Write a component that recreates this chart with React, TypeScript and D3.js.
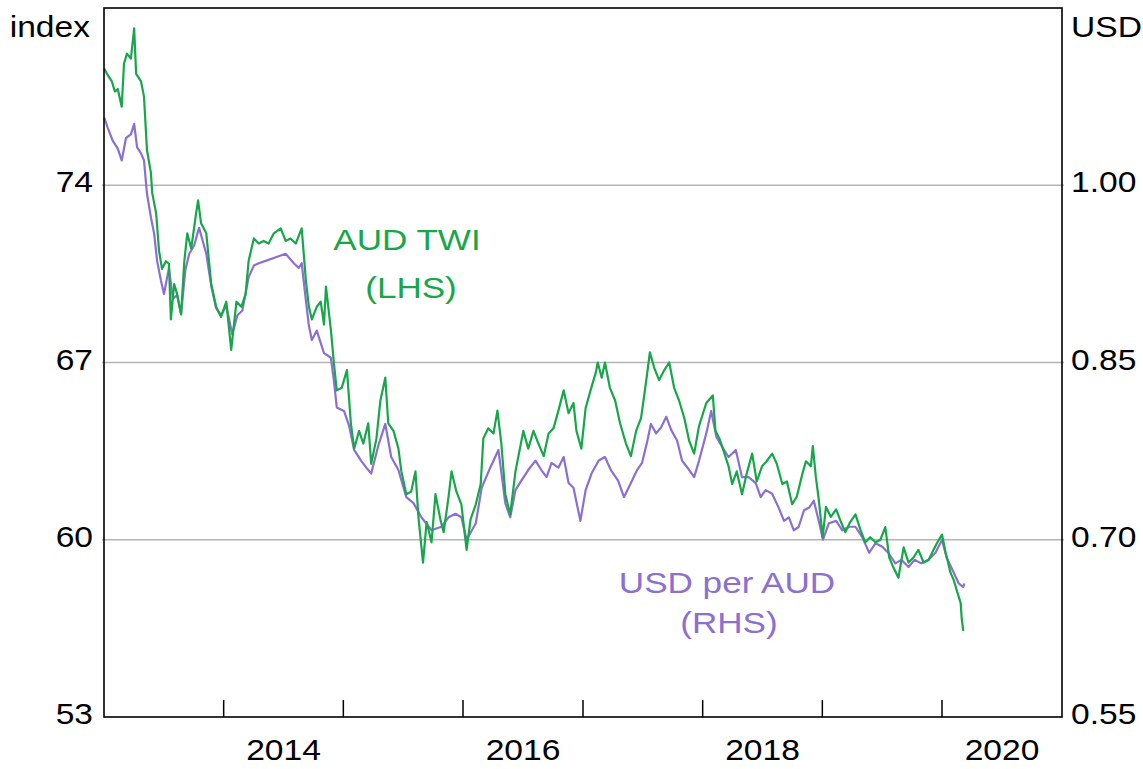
import React, { useEffect, useRef } from 'react';
import * as d3 from 'd3';

// AUD trade-weighted index (LHS)
const twiSeries: [string, number][] = [
  ['2013-01-02', 78.6], ['2013-01-10', 78.4], ['2013-01-25', 78.1], ['2013-02-03', 77.7], ['2013-02-12', 77.8],
  ['2013-02-24', 77.1], ['2013-03-03', 78.8], ['2013-03-12', 79.2], ['2013-03-24', 79.0], ['2013-04-03', 80.2],
  ['2013-04-09', 78.4], ['2013-04-24', 78.1], ['2013-05-03', 77.5], ['2013-05-12', 75.4], ['2013-05-24', 74.5],
  ['2013-05-28', 73.7], ['2013-06-09', 72.9], ['2013-06-18', 71.4], ['2013-06-27', 70.7], ['2013-07-09', 71.0],
  ['2013-07-18', 70.9], ['2013-07-24', 68.7], ['2013-08-03', 70.1], ['2013-08-12', 69.7], ['2013-08-24', 68.9],
  ['2013-09-03', 71.0], ['2013-09-12', 72.1], ['2013-09-24', 71.5], ['2013-10-09', 72.9], ['2013-10-15', 73.4],
  ['2013-10-24', 72.5], ['2013-11-09', 72.1], ['2013-11-24', 70.1], ['2013-12-09', 69.2], ['2013-12-24', 68.8],
  ['2014-01-09', 69.4], ['2014-01-24', 67.5], ['2014-02-09', 69.4], ['2014-02-24', 69.2], ['2014-03-09', 69.7],
  ['2014-03-18', 71.0], ['2014-04-03', 71.9], ['2014-04-18', 71.7], ['2014-05-03', 71.8], ['2014-05-18', 71.7],
  ['2014-06-03', 72.1], ['2014-06-24', 72.3], ['2014-07-09', 71.8], ['2014-07-24', 71.9], ['2014-08-09', 71.7],
  ['2014-08-27', 72.3], ['2014-09-09', 70.2], ['2014-09-18', 69.2], ['2014-09-27', 68.7], ['2014-10-12', 69.2],
  ['2014-10-24', 69.4], ['2014-11-03', 68.5], ['2014-11-09', 70.0], ['2014-11-24', 68.3], ['2014-12-03', 67.0],
  ['2014-12-12', 65.9], ['2014-12-27', 66.0], ['2015-01-12', 66.7], ['2015-01-24', 64.6], ['2015-02-03', 63.6],
  ['2015-02-18', 64.3], ['2015-03-03', 63.8], ['2015-03-18', 64.6], ['2015-03-27', 63.0], ['2015-04-12', 64.0],
  ['2015-04-24', 65.5], ['2015-05-09', 66.4], ['2015-05-18', 64.6], ['2015-06-03', 64.3], ['2015-06-18', 63.6],
  ['2015-06-27', 62.7], ['2015-07-12', 61.8], ['2015-07-27', 61.9], ['2015-08-09', 62.7], ['2015-08-18', 60.9],
  ['2015-09-01', 59.1], ['2015-09-12', 60.7], ['2015-09-27', 59.9], ['2015-10-09', 61.8], ['2015-10-24', 60.8],
  ['2015-11-03', 60.3], ['2015-11-18', 61.7], ['2015-11-27', 62.7], ['2015-12-12', 61.9], ['2015-12-27', 61.4],
  ['2016-01-12', 59.6], ['2016-01-24', 60.8], ['2016-02-09', 61.4], ['2016-02-24', 62.2], ['2016-03-03', 64.0],
  ['2016-03-18', 64.4], ['2016-04-03', 64.2], ['2016-04-15', 65.1], ['2016-04-27', 63.8], ['2016-05-09', 61.8],
  ['2016-05-24', 61.0], ['2016-06-09', 62.7], ['2016-06-18', 63.3], ['2016-07-03', 64.3], ['2016-07-18', 63.6],
  ['2016-08-03', 64.3], ['2016-08-18', 63.8], ['2016-09-03', 63.3], ['2016-09-18', 64.2], ['2016-10-03', 64.4],
  ['2016-10-18', 65.1], ['2016-11-03', 65.9], ['2016-11-18', 65.0], ['2016-12-03', 65.4], ['2016-12-12', 64.3],
  ['2016-12-27', 63.6], ['2017-01-09', 65.2], ['2017-01-24', 65.9], ['2017-02-09', 66.6], ['2017-02-15', 67.0],
  ['2017-02-27', 66.4], ['2017-03-09', 67.0], ['2017-03-24', 66.0], ['2017-04-09', 65.5], ['2017-04-24', 64.6],
  ['2017-05-12', 63.8], ['2017-05-27', 63.3], ['2017-06-12', 64.3], ['2017-06-27', 64.8], ['2017-07-12', 66.2],
  ['2017-07-24', 67.4], ['2017-08-06', 66.8], ['2017-08-21', 66.3], ['2017-09-06', 66.7], ['2017-09-21', 67.0],
  ['2017-10-06', 66.0], ['2017-10-21', 65.5], ['2017-11-06', 64.8], ['2017-11-21', 63.9], ['2017-12-06', 63.4],
  ['2017-12-21', 64.5], ['2018-01-12', 65.4], ['2018-02-01', 65.7], ['2018-02-09', 64.3], ['2018-02-21', 64.0],
  ['2018-03-06', 63.5], ['2018-03-21', 62.9], ['2018-04-01', 62.2], ['2018-04-15', 62.7], ['2018-05-01', 61.8],
  ['2018-05-15', 62.6], ['2018-06-01', 63.4], ['2018-06-15', 62.3], ['2018-07-01', 62.9], ['2018-07-15', 63.1],
  ['2018-08-01', 63.4], ['2018-08-15', 63.0], ['2018-09-01', 62.2], ['2018-09-15', 62.3], ['2018-10-01', 61.4],
  ['2018-10-15', 61.7], ['2018-11-01', 62.6], ['2018-11-12', 63.1], ['2018-11-27', 62.9], ['2018-12-03', 63.7],
  ['2018-12-12', 62.5], ['2018-12-21', 61.6], ['2019-01-02', 60.1], ['2019-01-12', 61.3], ['2019-01-27', 60.9],
  ['2019-02-12', 61.2], ['2019-02-27', 60.7], ['2019-03-12', 60.3], ['2019-03-27', 60.7], ['2019-04-12', 61.0],
  ['2019-04-27', 60.4], ['2019-05-12', 59.9], ['2019-05-27', 60.1], ['2019-06-12', 59.9], ['2019-06-27', 60.0],
  ['2019-07-12', 60.5], ['2019-07-24', 59.3], ['2019-08-06', 58.9], ['2019-08-21', 58.5], ['2019-09-06', 59.7],
  ['2019-09-21', 59.1], ['2019-10-06', 59.3], ['2019-10-21', 59.6], ['2019-11-06', 59.1], ['2019-11-21', 59.2],
  ['2019-12-06', 59.6], ['2019-12-18', 59.9], ['2020-01-01', 60.2], ['2020-01-12', 59.5], ['2020-01-27', 58.7],
  ['2020-02-06', 58.4], ['2020-02-15', 58.0], ['2020-02-27', 57.5], ['2020-03-01', 56.9], ['2020-03-06', 56.4],
];

// USD per AUD (RHS)
const usdSeries: [string, number][] = [
  ['2013-01-02', 1.057], ['2013-01-12', 1.049], ['2013-01-27', 1.038], ['2013-02-12', 1.031], ['2013-02-24', 1.021],
  ['2013-03-09', 1.040], ['2013-03-24', 1.043], ['2013-04-03', 1.052], ['2013-04-12', 1.032], ['2013-04-24', 1.027],
  ['2013-05-03', 1.021], ['2013-05-12', 0.993], ['2013-05-24', 0.973], ['2013-06-03', 0.959], ['2013-06-12', 0.936],
  ['2013-06-24', 0.919], ['2013-07-03', 0.908], ['2013-07-18', 0.930], ['2013-07-30', 0.904], ['2013-08-12', 0.907],
  ['2013-08-24', 0.891], ['2013-09-06', 0.928], ['2013-09-18', 0.942], ['2013-10-03', 0.949], ['2013-10-18', 0.964],
  ['2013-10-27', 0.955], ['2013-11-09', 0.942], ['2013-11-24', 0.915], ['2013-12-09', 0.896], ['2013-12-24', 0.890],
  ['2014-01-09', 0.898], ['2014-01-27', 0.874], ['2014-02-12', 0.890], ['2014-02-27', 0.894], ['2014-03-18', 0.922],
  ['2014-04-03', 0.932], ['2014-04-18', 0.934], ['2014-05-09', 0.936], ['2014-06-09', 0.939], ['2014-07-09', 0.942],
  ['2014-08-03', 0.934], ['2014-08-18', 0.930], ['2014-08-27', 0.934], ['2014-09-09', 0.902], ['2014-09-18', 0.881],
  ['2014-09-27', 0.869], ['2014-10-12', 0.877], ['2014-11-03', 0.858], ['2014-11-24', 0.854], ['2014-12-03', 0.835],
  ['2014-12-12', 0.812], ['2015-01-03', 0.809], ['2015-01-18', 0.797], ['2015-02-03', 0.776], ['2015-02-24', 0.767],
  ['2015-03-12', 0.761], ['2015-03-27', 0.756], ['2015-04-18', 0.780], ['2015-05-09', 0.798], ['2015-05-27', 0.770],
  ['2015-06-18', 0.759], ['2015-07-12', 0.736], ['2015-08-03', 0.731], ['2015-08-27', 0.719], ['2015-09-27', 0.708],
  ['2015-10-27', 0.711], ['2015-11-18', 0.719], ['2015-12-09', 0.722], ['2015-12-27', 0.719], ['2016-01-12', 0.700],
  ['2016-02-09', 0.714], ['2016-02-27', 0.744], ['2016-03-24', 0.761], ['2016-04-18', 0.776], ['2016-05-09', 0.731],
  ['2016-05-24', 0.719], ['2016-06-09', 0.742], ['2016-06-27', 0.750], ['2016-07-18', 0.759], ['2016-08-09', 0.767],
  ['2016-08-27', 0.759], ['2016-09-12', 0.753], ['2016-09-27', 0.765], ['2016-10-18', 0.761], ['2016-11-03', 0.770],
  ['2016-11-18', 0.748], ['2016-12-03', 0.744], ['2016-12-24', 0.716], ['2017-01-09', 0.742], ['2017-01-27', 0.756],
  ['2017-02-18', 0.767], ['2017-03-09', 0.770], ['2017-03-27', 0.759], ['2017-04-18', 0.750], ['2017-05-06', 0.736],
  ['2017-05-27', 0.748], ['2017-06-15', 0.759], ['2017-06-30', 0.765], ['2017-07-15', 0.782], ['2017-07-27', 0.798],
  ['2017-08-12', 0.790], ['2017-08-27', 0.795], ['2017-09-12', 0.804], ['2017-09-27', 0.793], ['2017-10-15', 0.784],
  ['2017-10-30', 0.767], ['2017-11-21', 0.759], ['2017-12-06', 0.753], ['2017-12-21', 0.767], ['2018-01-12', 0.790],
  ['2018-01-27', 0.809], ['2018-02-12', 0.787], ['2018-03-03', 0.778], ['2018-03-21', 0.770], ['2018-04-12', 0.776],
  ['2018-05-01', 0.753], ['2018-05-21', 0.753], ['2018-06-12', 0.748], ['2018-06-27', 0.736], ['2018-07-12', 0.742],
  ['2018-08-01', 0.739], ['2018-08-21', 0.727], ['2018-09-06', 0.716], ['2018-09-21', 0.719], ['2018-10-06', 0.708],
  ['2018-10-21', 0.711], ['2018-11-06', 0.725], ['2018-11-21', 0.727], ['2018-12-06', 0.733], ['2018-12-21', 0.716],
  ['2019-01-03', 0.700], ['2019-01-21', 0.714], ['2019-02-12', 0.716], ['2019-03-03', 0.708], ['2019-03-24', 0.711],
  ['2019-04-12', 0.711], ['2019-05-03', 0.702], ['2019-05-24', 0.689], ['2019-06-12', 0.697], ['2019-07-03', 0.694],
  ['2019-07-21', 0.689], ['2019-08-12', 0.680], ['2019-08-30', 0.683], ['2019-09-21', 0.677], ['2019-10-09', 0.683],
  ['2019-10-30', 0.680], ['2019-11-21', 0.683], ['2019-12-12', 0.689], ['2020-01-01', 0.700], ['2020-01-15', 0.685],
  ['2020-02-06', 0.672], ['2020-02-21', 0.663], ['2020-03-06', 0.660], ['2020-03-09', 0.663],
];

const leftTicks = [53, 60, 67, 74, 81];
const rightTicks = [0.55, 0.7, 0.85, 1.0, 1.15];
const yearLabels = [2014, 2016, 2018, 2020];

const GREEN = '#17a74a';
const PURPLE = '#8b6fd3';
const FONT = '"Liberation Sans", Arial, sans-serif';

export default function App() {
  const svgRef = useRef<SVGSVGElement>(null);

  useEffect(() => {
    const W = 1143, H = 769;
    const margin = { top: 8, right: 81, bottom: 52, left: 104 };
    const width = W - margin.left - margin.right;
    const height = H - margin.top - margin.bottom;
    const parse = d3.timeParse('%Y-%m-%d');

    const svg = d3.select(svgRef.current).attr('width', W).attr('height', H).html('');
    const g = svg.append('g').attr('transform', `translate(${margin.left},${margin.top})`);

    const x = d3.scaleTime()
      .domain([new Date(2013, 0, 1), new Date(2021, 0, 1)])
      .range([0, width]);
    const yL = d3.scaleLinear().domain([53, 81]).range([height, 0]);
    const yR = d3.scaleLinear().domain([0.55, 1.15]).range([height, 0]);

    const txt = (parent: any, tx: number, ty: number, s: string, anchor: string, color = '#000', sx = 1.12) =>
      parent.append('text')
        .attr('transform', `translate(${tx},${ty}) scale(${sx},1)`)
        .attr('text-anchor', anchor)
        .style('font-family', FONT)
        .style('font-size', '30px')
        .attr('fill', color)
        .text(s);

    // gridlines
    g.append('g')
      .selectAll('line')
      .data(leftTicks.slice(1, -1))
      .enter()
      .append('line')
      .attr('x1', -2).attr('x2', width + 2)
      .attr('y1', d => yL(d)).attr('y2', d => yL(d))
      .attr('stroke', '#b4b4b4').attr('stroke-width', 1.5);

    // year ticks along the bottom, inside the plot
    const yearTicks = x.ticks(d3.timeYear.every(1)).filter(d => x(d) > 1 && x(d) < width - 1);
    g.append('g')
      .selectAll('line')
      .data(yearTicks)
      .enter()
      .append('line')
      .attr('x1', d => x(d)).attr('x2', d => x(d))
      .attr('y1', height).attr('y2', height - 17)
      .attr('stroke', '#000').attr('stroke-width', 1.5);

    const lineL = d3.line<[string, number]>()
      .x(d => x(parse(d[0]) as Date))
      .y(d => yL(d[1]));
    const lineR = d3.line<[string, number]>()
      .x(d => x(parse(d[0]) as Date))
      .y(d => yR(d[1]));

    g.append('path').datum(usdSeries).attr('d', lineR)
      .attr('fill', 'none').attr('stroke', PURPLE).attr('stroke-width', 2.2).attr('stroke-linejoin', 'round');
    g.append('path').datum(twiSeries).attr('d', lineL)
      .attr('fill', 'none').attr('stroke', GREEN).attr('stroke-width', 2.2).attr('stroke-linejoin', 'round');

    // frame
    g.append('rect')
      .attr('width', width).attr('height', height)
      .attr('fill', 'none').attr('stroke', '#000').attr('stroke-width', 1.6);

    // axis labels
    leftTicks.slice(0, -1).forEach(t => txt(g, -11, yL(t) + 7, String(t), 'end'));
    rightTicks.slice(0, -1).forEach(t => txt(g, width + 9, yR(t) + 7, d3.format('.2f')(t), 'start'));
    yearLabels.forEach(yr => {
      const mid = (x(new Date(yr, 0, 1)) + x(new Date(yr + 1, 0, 1))) / 2;
      txt(g, mid, height + 43, String(yr), 'middle');
    });
    txt(g, -14, 29, 'index', 'end');
    txt(g, width + 9, 29, 'USD', 'start');

    // series annotations
    txt(g, 303, 242, 'AUD TWI', 'middle', GREEN, 1.17);
    txt(g, 307, 290, '(LHS)', 'middle', GREEN, 1.17);
    txt(g, 623, 585, 'USD per AUD', 'middle', PURPLE, 1.17);
    txt(g, 625, 625, '(RHS)', 'middle', PURPLE, 1.17);
  }, []);

  return <svg ref={svgRef} style={{ position: 'absolute', left: 0, top: 0, background: '#fff' }} />;
}
